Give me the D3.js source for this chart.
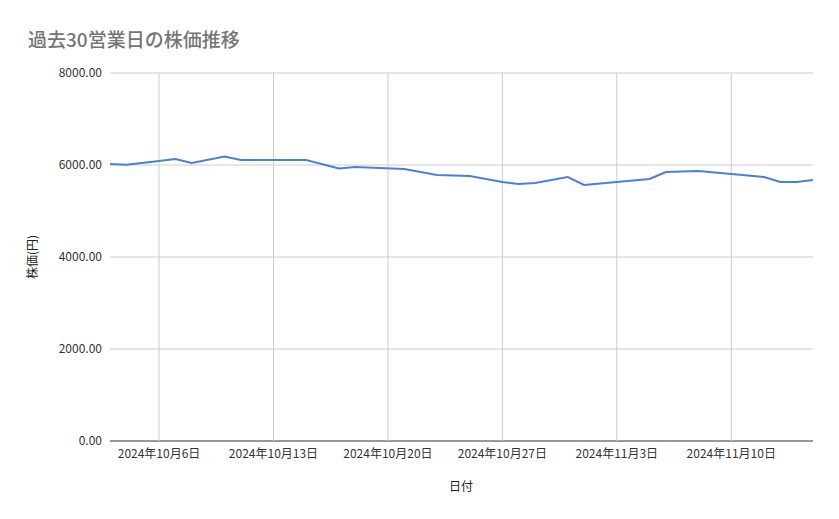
<!DOCTYPE html><html><head><meta charset="utf-8"><script src="https://cdn.jsdelivr.net/npm/d3@7"></script>
<style>body{margin:0;background:#fff}text{font-family:"Noto Sans CJK JP",Roboto,sans-serif}</style></head><body><svg id="c" width="839" height="519"></svg>
<script>
const dates=["2024-10-03","2024-10-04","2024-10-06","2024-10-07","2024-10-08","2024-10-10","2024-10-11","2024-10-13","2024-10-15","2024-10-17","2024-10-18","2024-10-21","2024-10-23","2024-10-25","2024-10-27","2024-10-28","2024-10-29","2024-10-31","2024-11-01","2024-11-03","2024-11-05","2024-11-06","2024-11-08","2024-11-10","2024-11-12","2024-11-13","2024-11-14","2024-11-15"];
const prices=[6022,6007,6087,6130,6043,6185,6109,6109,6109,5924,5957,5913,5783,5761,5630,5587,5609,5739,5565,5630,5696,5848,5870,5804,5739,5630,5630,5674];
const yTicks=[0,2000,4000,6000,8000];
const xTickDates=["2024-10-06","2024-10-13","2024-10-20","2024-10-27","2024-11-03","2024-11-10"];
const svg=d3.select("#c");
const p=d3.utcParse("%Y-%m-%d");
const x=d3.scaleUtc().domain([p("2024-10-03"),p("2024-11-15")]).range([110,813]);
const y=d3.scaleLinear().domain([0,8000]).range([441,73]);
svg.append("text").attr("x",28).attr("y",47).attr("font-size",19).attr("font-weight",500).attr("fill","#757575").text("過去30営業日の株価推移");
const g=svg.append("g");
g.selectAll(".yg").data(yTicks).join("line").attr("x1",110).attr("x2",813).attr("y1",d=>y(d)).attr("y2",d=>y(d)).attr("stroke",d=>d===0?"#333":"#ccc");
g.selectAll(".xg").data(xTickDates).join("line").attr("x1",d=>x(p(d))).attr("x2",d=>x(p(d))).attr("y1",73).attr("y2",441).attr("stroke","#ccc");
g.selectAll(".yl").data(yTicks).join("text").attr("x",102).attr("y",d=>y(d)+4).attr("text-anchor","end").attr("font-size",12).attr("fill","#333").text(d=>d3.format(".2f")(d));
g.selectAll(".xl").data(xTickDates).join("text").attr("x",d=>x(p(d))).attr("y",458).attr("text-anchor","middle").attr("font-size",12).attr("fill","#333").text(d=>{const t=p(d);return `${t.getUTCFullYear()}年${t.getUTCMonth()+1}月${t.getUTCDate()}日`;});
svg.append("text").attr("x",461).attr("y",491).attr("text-anchor","middle").attr("font-size",12).attr("fill","#222").text("日付");
svg.append("text").attr("transform","translate(37,257) rotate(-90)").attr("text-anchor","middle").attr("font-size",12).attr("fill","#222").text("株価(円)");
const line=d3.line().x((d,i)=>x(p(dates[i]))).y(d=>y(d));
svg.append("path").datum(prices).attr("d",line).attr("fill","none").attr("stroke","#4a80d9").attr("stroke-width",2);
</script></body></html>
